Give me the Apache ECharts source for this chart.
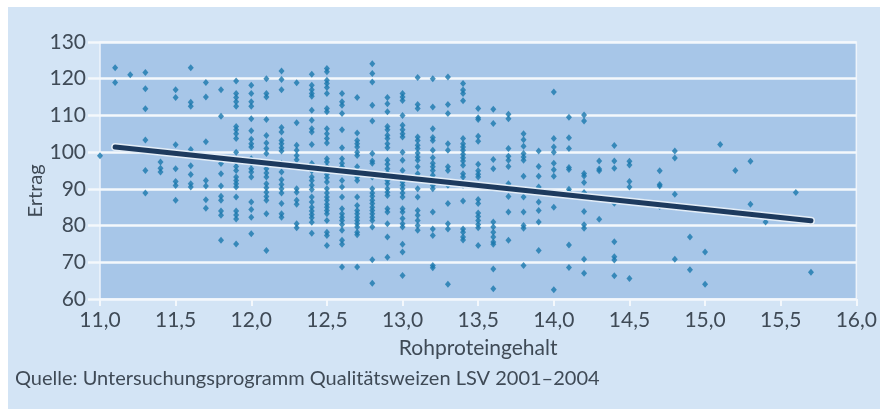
<!DOCTYPE html>
<html>
<head>
<meta charset="utf-8">
<script src="https://cdn.jsdelivr.net/npm/echarts@6/dist/echarts.min.js"></script>
<style>
  html, body { margin: 0; padding: 0; background: #ffffff; }
  #chart { width: 880px; height: 409px; }
</style>
</head>
<body>
<div id="chart"></div>
<script>
// Rohproteingehalt (x columns) and the Ertrag values found in each column
var protein = [11.0, 11.1, 11.2, 11.3, 11.4, 11.5, 11.6, 11.7, 11.8, 11.9,
  12.0, 12.1, 12.2, 12.3, 12.4, 12.5, 12.6, 12.7, 12.8, 12.9,
  13.0, 13.1, 13.2, 13.3, 13.4, 13.5, 13.6, 13.7, 13.8, 13.9,
  14.0, 14.1, 14.2, 14.3, 14.4, 14.5, 14.6, 14.7, 14.8, 14.9,
  15.0, 15.1, 15.2, 15.3, 15.4, 15.6, 15.7];

var ertrag = [
  [99],
  [123, 119],
  [121.1],
  [121.7, 117.3, 111.8, 103.3, 95.0, 88.9],
  [97.3, 95.6, 94.6],
  [117, 114.9, 102.0, 95.5, 92, 90.9, 86.9],
  [123, 113.6, 112.5, 100.7, 99.6, 96.3, 93.9, 91.4, 90.5],
  [119, 115, 102.8, 92.3, 90.8, 87.0, 84.7],
  [117, 109.8, 97.8, 96.9, 94.1, 90.8, 88, 86.9, 84, 82.8, 76],
  [119.4, 116, 114.9, 113.7, 112.5, 107, 106.1, 105, 103.7, 100, 98.2, 97.3, 96.1, 95.0, 93.2, 92.3, 91.4, 90.5, 87.8, 84, 82.9, 81.8, 75.0],
  [118.2, 116, 113.7, 112.5, 109.1, 105.8, 103.5, 102.3, 101.4, 98.2, 96.9, 95.5, 94.6, 93.2, 86.4, 84.4, 82.3, 77.8],
  [120.0, 116, 115, 108.9, 104.5, 102.5, 101, 99.6, 96.9, 95.5, 94.3, 93.2, 91.4, 90.3, 89.1, 87.9, 86.9, 83.2, 73.2],
  [122.1, 119.8, 117.0, 106.7, 105.5, 103.2, 102.3, 101.2, 100.3, 97.0, 94.6, 92.5, 91.2, 90.0, 88.9, 86, 83.2, 82.3],
  [118.9, 108.0, 101.9, 100.5, 99.1, 97.9, 96.4, 90.0, 89.1, 86.9, 85.8, 80.5, 79.4],
  [121.2, 118.2, 117, 116, 115.2, 111.4, 108.7, 106.4, 105.5, 102.1, 96.9, 96, 94.9, 93.2, 92.3, 91, 89.8, 87.8, 86.4, 85, 84, 83, 82.1, 80.9, 77.9],
  [122.8, 121.9, 119.6, 118.7, 117.6, 116, 111.9, 111, 106.4, 105, 103.7, 102.5, 98.2, 97.3, 96.1, 95, 94, 93, 91.9, 90.0, 88.9, 87.8, 86.9, 85.8, 85, 84.1, 83.2, 81.4, 78.2, 77.3, 74.6],
  [116, 113.7, 112.8, 110.5, 106.1, 101.2, 98.2, 97, 96, 94.6, 92.3, 90.5, 87.8, 84.6, 83.2, 82.3, 81.4, 80.3, 78.7, 76, 74.9, 68.7],
  [114.9, 105.2, 103.2, 102.3, 101.4, 100, 99.1, 96, 94.6, 93.2, 92.3, 87.8, 85.5, 84.1, 83.2, 82.3, 81.4, 80.5, 79.6, 78.2, 77.5, 68.7],
  [124.1, 121.4, 119.1, 112.8, 108.5, 99.6, 97.6, 97.0, 93.2, 90, 88.9, 88, 86.9, 86, 85, 84.1, 83.2, 82.3, 81.4, 79.6, 70.7, 64.3],
  [114.9, 113.2, 111, 107, 106.1, 104.6, 103.7, 102.3, 101.2, 97.8, 96.7, 95.5, 94.3, 92.3, 91.4, 90, 89.1, 88.2, 84.6, 83.7, 80.5, 76.9, 71.4],
  [116, 115.0, 114.1, 110.0, 107.3, 106.1, 105, 104.1, 100.0, 97.8, 95, 91.9, 91, 90, 88.9, 87.8, 84.6, 83.7, 81.9, 80.5, 79.6, 74.9, 72.8, 66.4],
  [120.3, 113, 111.9, 104.1, 103.2, 101.9, 101, 99.8, 98.7, 97.8, 96, 94.1, 90, 87.8, 84.1, 82.8, 81.4, 80, 78.7],
  [120.0, 112.3, 106.4, 104, 103.2, 100.5, 98.5, 97, 96, 95, 93.7, 92.8, 91.9, 91, 90.0, 83.7, 79.1, 77.3, 69.1, 68.5],
  [120.5, 113.0, 110.5, 102.3, 100.5, 96, 95, 91.0, 86, 80.5, 79.1, 64],
  [118.7, 116.9, 116, 114, 103.7, 102.3, 101.4, 100.5, 99.4, 98.5, 97.6, 96.4, 94.1, 93.2, 91.9, 91.0, 86.7, 79.1, 78.2, 76.9, 76.1],
  [111.9, 109.4, 108.9, 104.3, 103.0, 96.7, 94.9, 94, 93.2, 87.1, 86, 83.4, 82.5, 81.4, 80.3, 79.4, 74.6],
  [111.7, 107.8, 98, 95.5, 81, 79.6, 78.2, 76.9, 75.5, 74.9, 68.2, 62.8],
  [110.3, 109.1, 101, 98.9, 97.8, 96.1, 91.4, 90.5, 87.9, 83.7, 76],
  [105, 103.4, 101.6, 99.6, 98.7, 97.8, 93.4, 87.8, 83.7, 80, 79.3, 69.1],
  [100.3, 96.1, 93.4, 90.5, 86.4, 84.1, 81, 73.2],
  [116.4, 103.7, 101.4, 100, 97, 95.2, 93.4, 85, 62.5],
  [109.5, 103.9, 101.0, 95.8, 95.3, 89.9, 89.2, 74.7, 68.6],
  [110.1, 108.5, 94.2, 93.5, 91.7, 89.0, 88.1, 83.8, 80.2, 79.3, 70.8, 67.0],
  [97.6, 95.4, 94.9, 81.7],
  [101.8, 97.6, 95.6, 86.1, 75.6, 71.5, 70.6, 66.3],
  [97.5, 96.5, 92, 90.5, 65.6],
  [86.3],
  [94.9, 91.2, 90.8, 85.2],
  [100.3, 98.4, 88.5, 85.1, 70.8],
  [76.9, 68],
  [72.8, 64],
  [102.1],
  [95.0],
  [97.5, 85.8],
  [81.0],
  [89],
  [67.3]
];

// regression line end points
var trendX = [11.1, 15.7];
var trendY = [101.4, 81.3];

var chart = echarts.init(document.getElementById('chart'), null, { renderer: 'canvas' });

var points = [];
protein.forEach(function (p, i) {
  ertrag[i].forEach(function (v) {
    points.push([p, v]);
  });
});

var trend = trendX.map(function (x, i) { return [x, trendY[i]]; });

var textColor = '#3f4a56';
var fontFamily = 'Lato, "Open Sans", sans-serif';

var option = {
  animation: false,
  textStyle: { fontFamily: fontFamily },
  graphic: [
    { // light blue panel
      type: 'rect',
      z: -10,
      shape: { x: 8, y: 7, width: 872, height: 402 },
      style: { fill: '#d3e4f5' }
    },
    {
      type: 'text',
      x: 36, y: 191,
      rotation: Math.PI / 2,
      style: {
        text: 'Ertrag',
        fontSize: 20,
        fontFamily: fontFamily,
        fill: textColor,
        textAlign: 'center',
        textVerticalAlign: 'middle'
      }
    },
    {
      type: 'text',
      x: 15, y: 379,
      style: {
        text: 'Quelle: Untersuchungsprogramm Qualitätsweizen LSV 2001–2004',
        fontSize: 20,
        fontFamily: fontFamily,
        fill: textColor,
        textVerticalAlign: 'middle'
      }
    }
  ],
  grid: {
    left: 100,
    right: 14,
    top: 42,
    bottom: 110,
    show: true,
    backgroundColor: '#a7c6e8',
    borderColor: '#eef4fb',
    borderWidth: 1.5
  },
  xAxis: {
    type: 'value',
    min: 11,
    max: 16,
    interval: 0.5,
    name: 'Rohproteingehalt',
    nameLocation: 'middle',
    nameGap: 39,
    nameTextStyle: { fontSize: 21, color: textColor, fontFamily: fontFamily },
    axisLine: { show: false },
    axisTick: { show: true, length: 7, lineStyle: { color: '#f4f8fc', width: 2 } },
    splitLine: { show: false },
    axisLabel: {
      fontSize: 21,
      color: textColor,
      margin: 11,
      formatter: function (v) { return v.toFixed(1).replace('.', ','); }
    }
  },
  yAxis: {
    type: 'value',
    min: 60,
    max: 130,
    interval: 10,
    axisLine: { show: false },
    axisTick: { show: true, length: 12, lineStyle: { color: '#f4f8fc', width: 2.5 } },
    splitLine: { show: true, lineStyle: { color: '#f4f8fc', width: 2.5 } },
    axisLabel: { fontSize: 21, color: textColor, margin: 14 }
  },
  series: [
    {
      type: 'scatter',
      data: points,
      symbol: 'diamond',
      symbolSize: [6, 7],
      itemStyle: { color: '#1a78ad' },
      z: 2
    },
    { // light halo under the regression line
      type: 'line',
      data: trend,
      symbol: 'none',
      lineStyle: { color: '#e3edf7', width: 8, cap: 'round' },
      z: 3
    },
    {
      type: 'line',
      data: trend,
      symbol: 'none',
      lineStyle: { color: '#1d3a5e', width: 5, cap: 'round' },
      z: 4
    }
  ]
};

chart.setOption(option);
</script>
</body>
</html>
